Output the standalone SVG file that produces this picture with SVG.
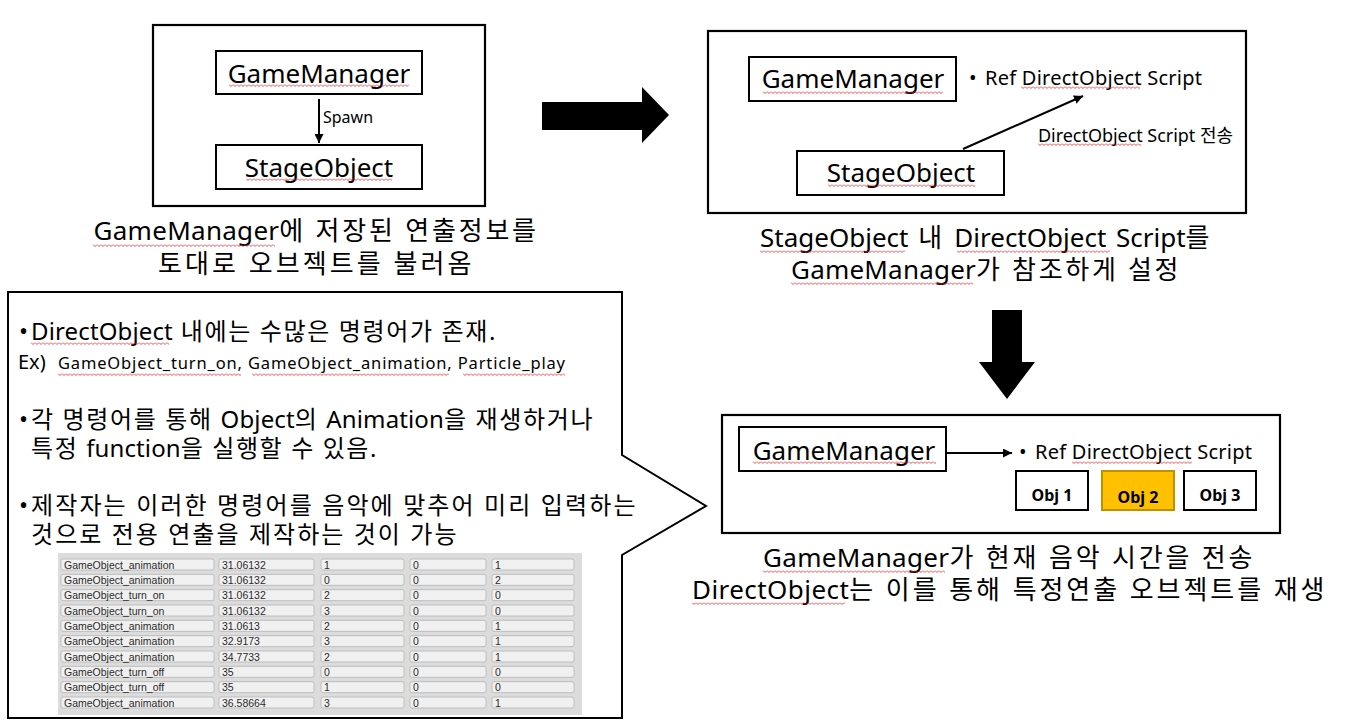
<svg xmlns="http://www.w3.org/2000/svg" width="1372" height="726" viewBox="0 0 1372 726">
<style>
.t{font-family:"Noto Sans","Noto Sans CJK KR",sans-serif;fill:#000}
.k{letter-spacing:2.5px}
.ks{letter-spacing:1.5px}
.box{fill:#fff;stroke:#000;stroke-width:2}
.frame{fill:#fff;stroke:#000;stroke-width:2.2}
.conn{stroke:#000;stroke-width:2;fill:none}
.cell{fill:#f0f0f0;stroke:#b4b4b4;stroke-width:0.8}
.ct{font-family:"Liberation Sans",Arial,sans-serif;font-size:10.5px;fill:#2a2a2a}
.ob{font-family:"Noto Sans","Noto Sans CJK KR",sans-serif;font-weight:bold;font-size:16px;fill:#000}
</style>
<defs>
<marker id="ah" viewBox="0 0 10 10" refX="10" refY="5" markerWidth="9" markerHeight="9" markerUnits="userSpaceOnUse" orient="auto">
<path d="M0,0 L10,5 L0,10 z" fill="#000"/>
</marker>
<pattern id="sq" width="4" height="3" patternUnits="userSpaceOnUse">
<path d="M0,0.5 L2,2.5 L4,0.5" fill="none" stroke="#e41a1a" stroke-width="0.8"/>
</pattern>
</defs>
<rect width="1372" height="726" fill="#fff"/>

<!-- Top-left panel -->
<g id="panel-spawn">
<rect class="frame" x="153" y="25" width="332" height="181"/>
<g id="tl-gamemanager">
<rect class="box" x="216" y="51" width="206" height="43"/>
<text class="t" x="319" y="83" font-size="26" text-anchor="middle">GameManager</text>
</g>
<g id="tl-stageobject">
<rect class="box" x="216" y="145" width="206" height="44"/>
<text class="t" x="319" y="177" font-size="26" text-anchor="middle">StageObject</text>
</g>
<text class="t" x="323" y="123" font-size="16">Spawn</text>
</g>
<text class="t" x="316" y="240" font-size="26" text-anchor="middle" textLength="445" lengthAdjust="spacing">GameManager<tspan class="k">에 저장된 연출정보를</tspan></text>
<text class="t k" x="316" y="273" font-size="26" text-anchor="middle" textLength="316" lengthAdjust="spacing">토대로 오브젝트를 불러옴</text>

<!-- Big arrows -->
<polygon id="arrow-right" points="542,102 642,102 642,87 669,115 642,143 642,130 542,130" fill="#000"/>
<polygon id="arrow-down" points="992,310 1022,310 1022,362 1035,362 1007,399 979,362 992,362" fill="#000"/>

<!-- Top-right panel -->
<g id="panel-ref">
<rect class="frame" x="708" y="31" width="538" height="182"/>
<g id="tr-gamemanager">
<rect class="box" x="749" y="57" width="207" height="44"/>
<text class="t" x="853" y="88" font-size="26" text-anchor="middle">GameManager</text>
</g>
<g id="tr-stageobject">
<rect class="box" x="797" y="151" width="207" height="44"/>
<text class="t" x="901" y="182" font-size="26" text-anchor="middle">StageObject</text>
</g>
<g id="tr-ref">
<text class="t" x="969" y="85" font-size="20">•</text>
<text class="t" x="985" y="85" font-size="20" textLength="217" lengthAdjust="spacing">Ref DirectObject Script</text>
</g>
<text class="t" x="1038" y="142" font-size="18" textLength="195" lengthAdjust="spacing">DirectObject Script 전송</text>
</g>
<text class="t" x="986" y="247" font-size="26" text-anchor="middle" textLength="452" lengthAdjust="spacing" word-spacing="3">StageObject <tspan class="k">내</tspan> DirectObject Script<tspan class="k">를</tspan></text>
<text class="t" x="986" y="279" font-size="26" text-anchor="middle" textLength="390" lengthAdjust="spacing">GameManager<tspan class="k">가 참조하게 설정</tspan></text>

<!-- Bottom-right panel -->
<g id="panel-play">
<rect class="frame" x="722" y="415" width="558" height="118"/>
<g id="br-gamemanager">
<rect class="box" x="739" y="427" width="207" height="44"/>
<text class="t" x="844" y="460" font-size="26" text-anchor="middle">GameManager</text>
</g>
<g id="br-ref">
<text class="t" x="1019" y="459" font-size="20">•</text>
<text class="t" x="1035" y="459" font-size="20" textLength="217" lengthAdjust="spacing">Ref DirectObject Script</text>
</g>
<g id="obj1">
<rect class="box" x="1016" y="471" width="72" height="39"/>
<text class="ob" x="1052" y="501" text-anchor="middle">Obj 1</text>
</g>
<g id="obj2">
<rect x="1102" y="471" width="72" height="39" fill="#ffc000" stroke="#bf9000" stroke-width="2"/>
<text class="ob" x="1138" y="503" text-anchor="middle">Obj 2</text>
</g>
<g id="obj3">
<rect class="box" x="1184" y="471" width="72" height="39"/>
<text class="ob" x="1220" y="501" text-anchor="middle">Obj 3</text>
</g>
</g>
<text class="t" x="1009" y="567" font-size="26" text-anchor="middle" textLength="492" lengthAdjust="spacing">GameManager<tspan class="k">가 현재 음악 시간을 전송</tspan></text>
<text class="t" x="1009.5" y="599" font-size="26" text-anchor="middle" textLength="635" lengthAdjust="spacing">DirectObject<tspan class="k">는 이를 통해 특정연출 오브젝트를 재생</tspan></text>

<!-- Callout -->
<g id="callout">
<path d="M8,292 H622 V455 L706,506 L622,555 V718 H8 Z" fill="#fff" stroke="#000" stroke-width="2"/>
<text class="t" x="19" y="340" font-size="24">•</text>
<text class="t" x="31" y="340" font-size="24" textLength="466" lengthAdjust="spacing">DirectObject<tspan class="ks"> 내에는 수많은 명령어가 존재.</tspan></text>
<text class="t" x="18" y="369" font-size="20">Ex)</text>
<text class="t" x="58" y="369" font-size="16.5" textLength="507" lengthAdjust="spacing">GameObject_turn_on, GameObject_animation, Particle_play</text>
<text class="t" x="19" y="428" font-size="24">•</text>
<text class="t" x="31" y="428" font-size="24" textLength="563" lengthAdjust="spacing"><tspan class="ks">각 명령어를 통해 </tspan>Object<tspan class="ks">의 </tspan>Animation<tspan class="ks">을 재생하거나</tspan></text>
<text class="t" x="31" y="457" font-size="24" textLength="347" lengthAdjust="spacing"><tspan class="ks">특정 </tspan>function<tspan class="ks">을 실행할 수 있음.</tspan></text>
<text class="t" x="19" y="514" font-size="24">•</text>
<text class="t ks" x="31" y="514" font-size="24" textLength="606" lengthAdjust="spacing">제작자는 이러한 명령어를 음악에 맞추어 미리 입력하는</text>
<text class="t ks" x="31" y="543" font-size="24" textLength="427" lengthAdjust="spacing">것으로 전용 연출을 제작하는 것이 가능</text>
</g>

<!-- Table screenshot -->
<g id="table">
<rect x="58" y="553" width="524" height="162" fill="#dcdcdc"/>
<g>
<rect class="cell" x="61" y="559" width="153" height="11" rx="2"/><rect class="cell" x="219" y="559" width="95" height="11" rx="2"/><rect class="cell" x="321" y="559" width="83" height="11" rx="2"/><rect class="cell" x="410" y="559" width="76" height="11" rx="2"/><rect class="cell" x="492" y="559" width="82" height="11" rx="2"/>
<text class="ct" x="64" y="568.5">GameObject_animation</text><text class="ct" x="222" y="568.5">31.06132</text><text class="ct" x="324" y="568.5">1</text><text class="ct" x="413" y="568.5">0</text><text class="ct" x="495" y="568.5">1</text>
</g>
<g transform="translate(0,15.33)">
<rect class="cell" x="61" y="559" width="153" height="11" rx="2"/><rect class="cell" x="219" y="559" width="95" height="11" rx="2"/><rect class="cell" x="321" y="559" width="83" height="11" rx="2"/><rect class="cell" x="410" y="559" width="76" height="11" rx="2"/><rect class="cell" x="492" y="559" width="82" height="11" rx="2"/>
<text class="ct" x="64" y="568.5">GameObject_animation</text><text class="ct" x="222" y="568.5">31.06132</text><text class="ct" x="324" y="568.5">0</text><text class="ct" x="413" y="568.5">0</text><text class="ct" x="495" y="568.5">2</text>
</g>
<g transform="translate(0,30.67)">
<rect class="cell" x="61" y="559" width="153" height="11" rx="2"/><rect class="cell" x="219" y="559" width="95" height="11" rx="2"/><rect class="cell" x="321" y="559" width="83" height="11" rx="2"/><rect class="cell" x="410" y="559" width="76" height="11" rx="2"/><rect class="cell" x="492" y="559" width="82" height="11" rx="2"/>
<text class="ct" x="64" y="568.5">GameObject_turn_on</text><text class="ct" x="222" y="568.5">31.06132</text><text class="ct" x="324" y="568.5">2</text><text class="ct" x="413" y="568.5">0</text><text class="ct" x="495" y="568.5">0</text>
</g>
<g transform="translate(0,46)">
<rect class="cell" x="61" y="559" width="153" height="11" rx="2"/><rect class="cell" x="219" y="559" width="95" height="11" rx="2"/><rect class="cell" x="321" y="559" width="83" height="11" rx="2"/><rect class="cell" x="410" y="559" width="76" height="11" rx="2"/><rect class="cell" x="492" y="559" width="82" height="11" rx="2"/>
<text class="ct" x="64" y="568.5">GameObject_turn_on</text><text class="ct" x="222" y="568.5">31.06132</text><text class="ct" x="324" y="568.5">3</text><text class="ct" x="413" y="568.5">0</text><text class="ct" x="495" y="568.5">0</text>
</g>
<g transform="translate(0,61.33)">
<rect class="cell" x="61" y="559" width="153" height="11" rx="2"/><rect class="cell" x="219" y="559" width="95" height="11" rx="2"/><rect class="cell" x="321" y="559" width="83" height="11" rx="2"/><rect class="cell" x="410" y="559" width="76" height="11" rx="2"/><rect class="cell" x="492" y="559" width="82" height="11" rx="2"/>
<text class="ct" x="64" y="568.5">GameObject_animation</text><text class="ct" x="222" y="568.5">31.0613</text><text class="ct" x="324" y="568.5">2</text><text class="ct" x="413" y="568.5">0</text><text class="ct" x="495" y="568.5">1</text>
</g>
<g transform="translate(0,76.67)">
<rect class="cell" x="61" y="559" width="153" height="11" rx="2"/><rect class="cell" x="219" y="559" width="95" height="11" rx="2"/><rect class="cell" x="321" y="559" width="83" height="11" rx="2"/><rect class="cell" x="410" y="559" width="76" height="11" rx="2"/><rect class="cell" x="492" y="559" width="82" height="11" rx="2"/>
<text class="ct" x="64" y="568.5">GameObject_animation</text><text class="ct" x="222" y="568.5">32.9173</text><text class="ct" x="324" y="568.5">3</text><text class="ct" x="413" y="568.5">0</text><text class="ct" x="495" y="568.5">1</text>
</g>
<g transform="translate(0,92)">
<rect class="cell" x="61" y="559" width="153" height="11" rx="2"/><rect class="cell" x="219" y="559" width="95" height="11" rx="2"/><rect class="cell" x="321" y="559" width="83" height="11" rx="2"/><rect class="cell" x="410" y="559" width="76" height="11" rx="2"/><rect class="cell" x="492" y="559" width="82" height="11" rx="2"/>
<text class="ct" x="64" y="568.5">GameObject_animation</text><text class="ct" x="222" y="568.5">34.7733</text><text class="ct" x="324" y="568.5">2</text><text class="ct" x="413" y="568.5">0</text><text class="ct" x="495" y="568.5">1</text>
</g>
<g transform="translate(0,107.33)">
<rect class="cell" x="61" y="559" width="153" height="11" rx="2"/><rect class="cell" x="219" y="559" width="95" height="11" rx="2"/><rect class="cell" x="321" y="559" width="83" height="11" rx="2"/><rect class="cell" x="410" y="559" width="76" height="11" rx="2"/><rect class="cell" x="492" y="559" width="82" height="11" rx="2"/>
<text class="ct" x="64" y="568.5">GameObject_turn_off</text><text class="ct" x="222" y="568.5">35</text><text class="ct" x="324" y="568.5">0</text><text class="ct" x="413" y="568.5">0</text><text class="ct" x="495" y="568.5">0</text>
</g>
<g transform="translate(0,122.67)">
<rect class="cell" x="61" y="559" width="153" height="11" rx="2"/><rect class="cell" x="219" y="559" width="95" height="11" rx="2"/><rect class="cell" x="321" y="559" width="83" height="11" rx="2"/><rect class="cell" x="410" y="559" width="76" height="11" rx="2"/><rect class="cell" x="492" y="559" width="82" height="11" rx="2"/>
<text class="ct" x="64" y="568.5">GameObject_turn_off</text><text class="ct" x="222" y="568.5">35</text><text class="ct" x="324" y="568.5">1</text><text class="ct" x="413" y="568.5">0</text><text class="ct" x="495" y="568.5">0</text>
</g>
<g transform="translate(0,138)">
<rect class="cell" x="61" y="559" width="153" height="11" rx="2"/><rect class="cell" x="219" y="559" width="95" height="11" rx="2"/><rect class="cell" x="321" y="559" width="83" height="11" rx="2"/><rect class="cell" x="410" y="559" width="76" height="11" rx="2"/><rect class="cell" x="492" y="559" width="82" height="11" rx="2"/>
<text class="ct" x="64" y="568.5">GameObject_animation</text><text class="ct" x="222" y="568.5">36.58664</text><text class="ct" x="324" y="568.5">3</text><text class="ct" x="413" y="568.5">0</text><text class="ct" x="495" y="568.5">1</text>
</g>
</g>

<!-- Connectors -->
<g id="connectors">
<line class="conn" x1="319" y1="99" x2="319" y2="143" marker-end="url(#ah)"/>
<line class="conn" x1="963" y1="149" x2="1083" y2="96" marker-end="url(#ah)"/>
<line class="conn" x1="946" y1="453" x2="1012" y2="453" marker-end="url(#ah)"/>
</g>

<!-- Spell-check squiggles -->
<g id="squiggles" fill="url(#sq)">
<rect transform="translate(229,84)" width="180" height="3"/>
<rect transform="translate(246,178)" width="146" height="3"/>
<rect transform="translate(93,244)" width="182" height="3"/>
<rect transform="translate(763,91)" width="180" height="3"/>
<rect transform="translate(828,184)" width="147" height="3"/>
<rect transform="translate(1021,86)" width="119" height="3"/>
<rect transform="translate(1038,143)" width="103" height="3"/>
<rect transform="translate(760,250)" width="145" height="3"/>
<rect transform="translate(957,250)" width="153" height="3"/>
<rect transform="translate(791,282)" width="182" height="3"/>
<rect transform="translate(753,461)" width="183" height="3"/>
<rect transform="translate(1072,461)" width="120" height="3"/>
<rect transform="translate(763,570)" width="182" height="3"/>
<rect transform="translate(692,602)" width="153" height="3"/>
<rect transform="translate(31,342)" width="138" height="3"/>
<rect transform="translate(58,373)" width="183" height="3"/>
<rect transform="translate(252,373)" width="197" height="3"/>
<rect transform="translate(463,373)" width="102" height="3"/>
</g>
</svg>
